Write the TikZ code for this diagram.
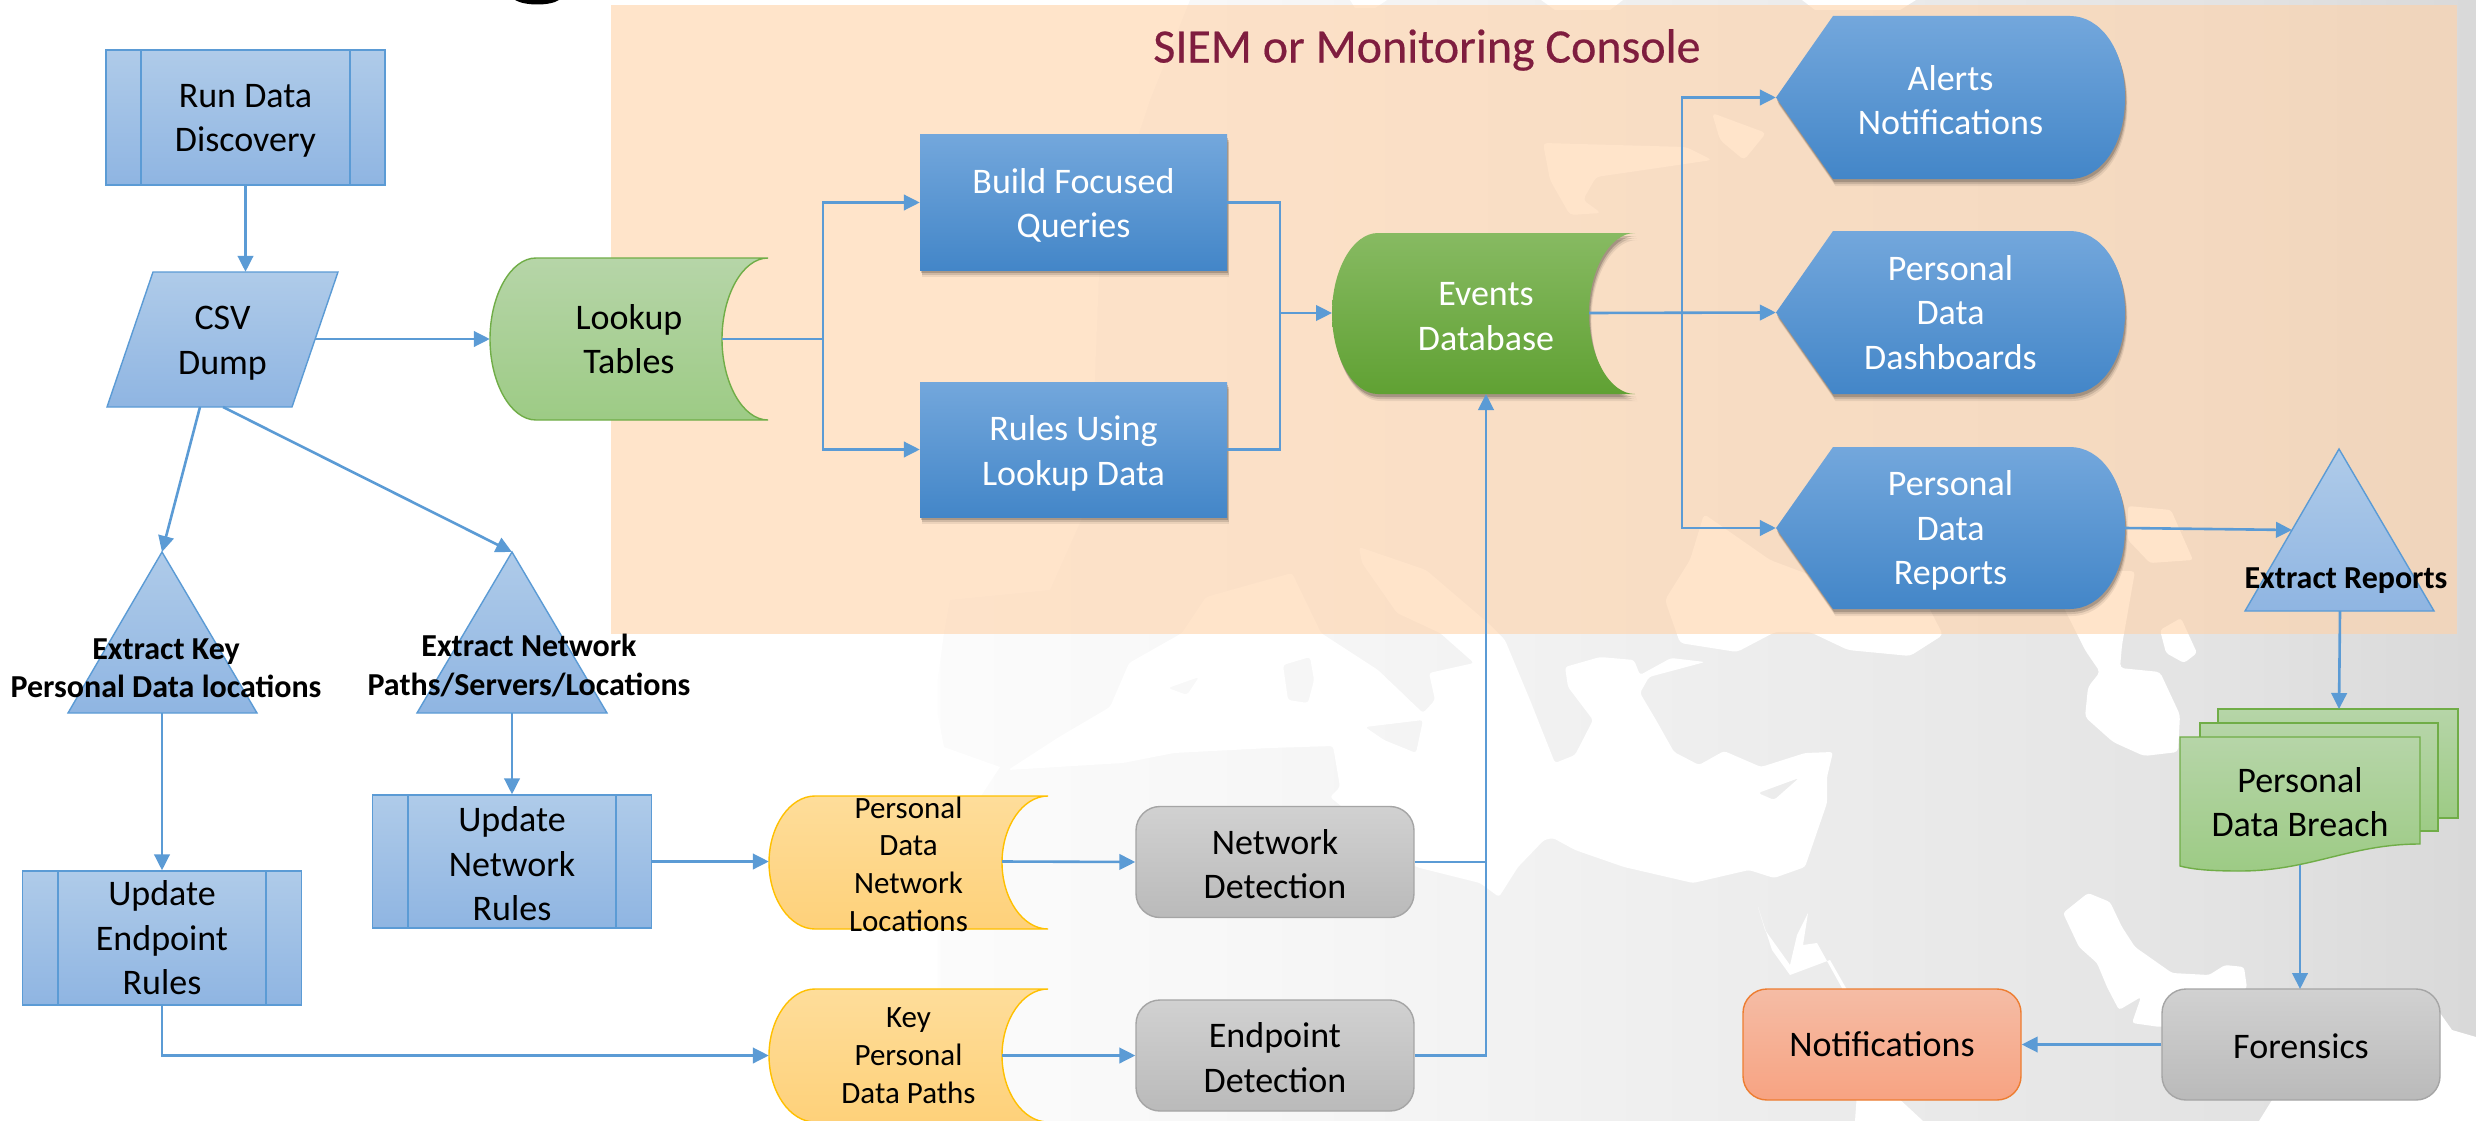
\documentclass[tikz,border=0pt]{standalone}
\usepackage{fontspec}
\setmainfont{Carlito}
\newfontfamily\titlefont[FakeBold=0.4]{Carlito}
\usetikzlibrary{arrows.meta}
\pgfdeclarehorizontalshading{mapgrad}{100bp}{color(0bp)=(white);color(43.9bp)=(white);color(44bp)=(white!98.5!black);color(50bp)=(white!97!black);color(55.3bp)=(white!95!black);color(60bp)=(white!93!black);color(65.4bp)=(white!91!black);color(70bp)=(white!89!black);color(75bp)=(white!85!black);color(100bp)=(white!85!black)}
\definecolor{lineblue}{HTML}{5B9BD5}
\definecolor{greenedge}{HTML}{70AD47}
\definecolor{amberedge}{HTML}{FFC000}
\definecolor{grayedge}{HTML}{A5A5A5}
\definecolor{orangeedge}{HTML}{ED7D31}
\definecolor{titlered}{HTML}{7F1D3F}
\newcommand\dn[1]{\rule{0pt}{#1pt}}
\tikzset{
  lightblue/.style={draw=lineblue,line width=1.4pt,shade,top color={rgb,255:red,175;green,203;blue,233},bottom color={rgb,255:red,143;green,181;blue,226}},
  darkblue/.style={shade,top color={rgb,255:red,115;green,167;blue,220},middle color={rgb,255:red,85;green,152;blue,218},bottom color={rgb,255:red,67;green,134;blue,200}},
  lightgreen/.style={draw=greenedge,line width=1.4pt,top color={rgb,255:red,182;green,213;blue,168},bottom color={rgb,255:red,157;green,203;blue,133}},
  darkgreen/.style={shade,top color={rgb,255:red,135;green,186;blue,98},middle color={rgb,255:red,112;green,177;blue,66},bottom color={rgb,255:red,96;green,161;blue,51}},
  amber/.style={draw=amberedge,line width=1.4pt,top color={rgb,255:red,254;green,221;blue,154},bottom color={rgb,255:red,254;green,209;blue,122}},
  grayround/.style={draw=grayedge,line width=1.4pt,rounded corners=24pt,top color={rgb,255:red,209;green,209;blue,209},bottom color={rgb,255:red,186;green,186;blue,186},minimum width=278pt,minimum height=111pt,inner sep=0pt},
  orangeround/.style={draw=orangeedge,line width=1.4pt,rounded corners=24pt,top color={rgb,255:red,245;green,188;blue,165},bottom color={rgb,255:red,247;green,163;blue,130},minimum width=278pt,minimum height=111pt,inner sep=0pt},
  txt/.style={align=center,inner sep=0pt,font=\fontsize{36}{44.4}\selectfont},
  txtw/.style={txt,text=white},
  txts/.style={align=center,inner sep=0pt,font=\fontsize{31}{37.8}\selectfont},
  lbl/.style={align=center,inner sep=0pt,font=\bfseries\fontsize{32}{38.5}\selectfont},
  conn/.style={draw=lineblue,line width=2.6pt,-{Triangle[length=16pt,width=15.5pt]}},
  plain/.style={draw=lineblue,line width=2.6pt},
  inner/.style={draw=lineblue,line width=1.4pt},
  sea/.style={fill=white,even odd rule}
}
\newcommand\tapeshape[6]{% style, x1,y1,x2,y2,d
  \path[#1] ({#2+#6},#3) .. controls ({#2+.45*#6},#3) and (#2,{(#3+#5)/2-.27*(#5-#3)}) .. (#2,{(#3+#5)/2})
    .. controls (#2,{(#3+#5)/2+.27*(#5-#3)}) and ({#2+.45*#6},#5) .. ({#2+#6},#5)
    -- (#4,#5) .. controls ({#4-.55*#6},#5) and ({#4-#6},{(#3+#5)/2+.27*(#5-#3)}) .. ({#4-#6},{(#3+#5)/2})
    .. controls ({#4-#6},{(#3+#5)/2-.27*(#5-#3)}) and ({#4-.55*#6},#3) .. (#4,#3) -- cycle;}
\newcommand\displayshape[5]{% style, tip,y1,x2,y2
  \path[#1] (#2,{(#3+#5)/2}) -- ({#2+57},#3) -- ({#4-55},#3)
    .. controls ({#4-25},#3) and (#4,{(#3+#5)/2-.3*(#5-#3)}) .. (#4,{(#3+#5)/2})
    .. controls (#4,{(#3+#5)/2+.3*(#5-#3)}) and ({#4-25},#5) .. ({#4-55},#5)
    -- ({#2+57},#5) -- cycle;}
\newcommand\softdisplay[4]{\foreach \d/\o in {7/.07,5/.12,3/.18}{\displayshape{fill=black,opacity=\o,shift={(.35*\d,\d)}}{#1}{#2}{#3}{#4}}}
\newcommand\softrect[4]{\foreach \d/\o in {7/.07,5/.12,3/.18}{\path[fill=black,opacity=\o,shift={(.35*\d,\d)}] (#1,#2) rectangle (#3,#4);}}
\newcommand\softtape[5]{\foreach \d/\o in {7/.07,5/.12,3/.18}{\tapeshape{fill=black,opacity=\o,shift={(.35*\d,\d)}}{#1}{#2}{#3}{#4}{#5}}}
\begin{document}
\begin{tikzpicture}[x=1pt,y=-1pt]
\useasboundingbox (0,0) rectangle (2476,1121);
% map background
\path[shading=mapgrad] (0,0) rectangle (2476,1121);
\path[sea] (0,0) -- (1190,0) -- (1150,100) -- (1100,250) -- (1090,500) -- (1050,590) -- (950,600) -- (944,633) -- (935,700) -- (944,747) -- (1000,767) -- (983,793) -- (900,937) -- (855,960) -- (833,987) -- (772,1121) -- (0,1121) -- cycle;
\path[sea,rounded corners=3pt] (1008,770) -- (1123,763) -- (1174,753) -- (1270,748) -- (1333,746) -- (1340,787) -- (1330,797) -- (1416,867) -- (1480,883) -- (1499,897) -- (1518,867) -- (1544,840) -- (1553,838) -- (1575,850) -- (1624,867) -- (1693,883) -- (1749,870) -- (1774,878) -- (1805,867) -- (1827,803) -- (1827,777) -- (1833,752) -- (1805,753) -- (1761,767) -- (1724,751) -- (1699,765) -- (1674,752) -- (1656,720) -- (1640,693) -- (1649,677) -- (1705,662) -- (1671,658) -- (1640,675) -- (1634,660) -- (1600,657) -- (1565,667) -- (1568,687) -- (1593,720) -- (1575,755) -- (1555,763) -- (1530,700) -- (1505,640) -- (1488,623) -- (1426,570) -- (1359,547) -- (1362,563) -- (1397,613) -- (1440,633) -- (1474,663) -- (1429,673) -- (1435,700) -- (1423,713) -- (1378,670) -- (1321,633) -- (1292,573) -- (1206,597) -- (1182,633) -- (1129,663) -- (1110,707) -- (1059,737) -- cycle
  (1283,665) -- (1310,657) -- (1314,680) -- (1308,703) -- (1288,700) -- cycle
  (1365,727) -- (1423,720) -- (1416,753) -- (1384,740) -- cycle
  (1168,688) -- (1199,677) -- (1187,695) -- cycle
  (1758,793) -- (1799,778) -- (1774,800) -- cycle;
\path[sea,rounded corners=4pt] (1665,600) -- (1680,643) -- (1737,652) -- (1775,632) -- (1810,632) -- (1848,650) -- (1910,656) -- (1943,635) -- (1925,600) -- (1850,590) -- (1770,560) -- (1704,514) -- (1690,560) -- cycle;
\path[sea,rounded corners=4pt] (2060,600) -- (2070,571) -- (2135,571) -- (2122,645) -- (2120,668) -- (2160,672) -- (2180,715) -- (2178,752) -- (2144,756) -- (2113,742) -- (2085,717) -- (2088,687) -- (2100,672) -- (2085,650) -- cycle;
\path[sea,rounded corners=3pt] (2160,630) -- (2181,618) -- (2197,653) -- (2184,663) -- (2166,653) -- cycle;
\path[sea,rounded corners=3pt] (2128,506) -- (2171,510) -- (2193,560) -- (2150,563) -- (2128,540) -- cycle;
\path[sea] (1758,907) -- (1765,930) -- (1790,965) -- (1797,935) -- (1808,913) -- (1803,945) -- (1817,943) -- (1842,988) -- (1860,1050) -- (1855,1121) -- (1923,1121) -- (1895,1095) -- (1870,1030) -- (1830,960) -- (1790,975) -- (1772,950) -- cycle;
\path[sea,rounded corners=3pt] (2063,913) -- (2088,893) -- (2110,902) -- (2122,927) -- (2135,947) -- (2172,973) -- (2209,975) -- (2225,965) -- (2244,967) -- (2247,988) -- (2200,1020) -- (2160,1027) -- (2132,1023) -- (2141,997) -- (2119,1010) -- (2107,987) -- (2097,963) -- (2079,947) -- cycle;
\path[sea] (2476,1037) -- (2452,1030) -- (2440,1013) -- (2300,1000) -- (2272,1100) -- (2259,1121) -- (2476,1121) -- cycle;
\path[sea] (1350,0) -- (1387,0) -- (1375,8) -- (1355,8) -- cycle (1541,0) -- (1623,0) -- (1610,10) -- (1555,10) -- cycle (1802,0) -- (1916,0) -- (1900,10) -- (1815,10) -- cycle;
\path[sea,rounded corners=4pt] (1712,113) -- (1766,133) -- (1744,160) -- (1720,140) -- cycle;
\path[sea,rounded corners=4pt] (1543,143) -- (1686,147) -- (1712,160) -- (1596,177) -- (1583,200) -- (1601,213) -- (1570,215) -- (1550,180) -- cycle;
% fragment at the top edge
\path[fill=black] (515,0) .. controls (525,6) and (550,6) .. (559,0) -- cycle;
% console band
\path[fill={rgb,255:red,255;green,210;blue,168},fill opacity=.6] (611,5) rectangle (2457,634);
\node[font=\titlefont\fontsize{48}{56}\selectfont,text=titlered,inner sep=0pt] (title) at (1427,50) {SIEM or Monitoring Console};

% predefined process boxes
\node[lightblue,minimum width=279pt,minimum height=135pt,inner sep=0pt,txt] (run) at (245.5,117.5) {\dn{30}Run Data\\Discovery};
\draw[inner] (141,50) -- (141,185) (350,50) -- (350,185);
\node[lightblue,minimum width=279pt,minimum height=134pt,inner sep=0pt,txt] (upep) at (162,938) {Update\\Endpoint\\Rules};
\draw[inner] (58,871) -- (58,1005) (266,871) -- (266,1005);
\node[lightblue,minimum width=278.5pt,minimum height=133pt,inner sep=0pt,txt] (upnet) at (512,861.5) {\dn{30}Update\\Network\\Rules};
\draw[inner] (408,795) -- (408,928) (616,795) -- (616,928);

% parallelogram
\path[lightblue] (153,272) -- (338,272) -- (292,407) -- (107,407) -- cycle;
\node[txt,minimum width=231pt,minimum height=135pt] (csv) at (222.5,339.5) {\dn{31}CSV\\Dump};

% triangles
\path[lightblue] (162,552) -- (257,713) -- (68,713) -- cycle;
\path[lightblue] (512,552) -- (607,713) -- (417,713) -- cycle;
\path[lightblue] (2339,449) -- (2434,611) -- (2245,611) -- cycle;
\node[lbl] (exkey) at (166,668) {Extract Key\\Personal Data locations};
\node[lbl] (exnet) at (529,665.5) {Extract Network\\Paths/Servers/Locations};
\node[lbl] (exrep) at (2346,581) {Extract Reports};

% tapes
\tapeshape{lightgreen}{490}{258}{768}{420}{46}
\node[txt,minimum width=278pt,minimum height=162pt] (lookup) at (629,339) {Lookup\\Tables};
\tapeshape{amber}{769}{796}{1048}{929}{46}
\node[txts,minimum width=279pt,minimum height=133pt] (pdnl) at (908.5,861.5) {\dn{27}Personal\\Data\\Network\\Locations};
\tapeshape{amber}{769}{989}{1048}{1122}{46}
\node[txts,minimum width=279pt,minimum height=133pt] (kpdp) at (908.5,1055.5) {Key\\Personal\\Data Paths};
\softtape{1332}{233}{1635}{394}{46}
\tapeshape{darkgreen}{1332}{233}{1635}{394}{46}
\node[txtw] (events) at (1486,316.5) {Events\\Database};

% dark blue process
\softrect{920}{135}{1227}{270}
\softrect{920}{382}{1227}{517}
\node[darkblue,txtw,minimum width=307pt,minimum height=135pt] (build) at (1073.5,202.5) {\dn{31}Build Focused\\Queries};
\node[darkblue,txtw,minimum width=307pt,minimum height=135pt] (rules) at (1073.5,449.5) {\dn{33}Rules Using\\Lookup Data};

% display shapes
\softdisplay{1776}{16}{2125}{179}
\displayshape{darkblue}{1776}{16}{2125}{179}
\node[txtw,minimum width=349pt,minimum height=163pt] (alerts) at (1950.5,97.5) {\dn{30}Alerts\\Notifications};
\softdisplay{1776}{231}{2125}{394}
\displayshape{darkblue}{1776}{231}{2125}{394}
\node[txtw,minimum width=349pt,minimum height=163pt] (dash) at (1950.5,312.5) {Personal\\Data\\Dashboards};
\softdisplay{1776}{447}{2125}{609}
\displayshape{darkblue}{1776}{447}{2125}{609}
\node[txtw,minimum width=349pt,minimum height=162pt] (reports) at (1950.5,528) {\dn{30}Personal\\Data\\Reports};

% detection and outcome boxes
\node[grayround,txt] (netdet) at (1275,862) {\dn{29}Network\\Detection};
\node[grayround,txt] (epdet) at (1275,1055.5) {\dn{29}Endpoint\\Detection};
\node[grayround,txt] (forensics) at (2301,1044.5) {\dn{29}Forensics};
\node[orangeround,txt] (notif) at (1882,1044.5) {Notifications};

% multi-document
\path[lightgreen] (2218,709) rectangle (2458,818);
\path[lightgreen] (2200,723) rectangle (2438,831);
\path[lightgreen] (2180,737) -- (2420,737) -- (2420,844) .. controls (2350,844) and (2310,871) .. (2240,871) .. controls (2215,871) and (2195,870) .. (2180,866) -- cycle;
\node[txt] (breach) at (2300,802) {Personal\\Data Breach};

% connection points on the drawn outlines
\coordinate (csvr) at (315,339);
\coordinate (csvl) at (200,407);
\coordinate (csvm) at (223,407);
\coordinate (tkey) at (162,552);
\coordinate (tnet) at (512,552);
\coordinate (tkeyb) at (162,713);
\coordinate (tnetb) at (512,713);
\coordinate (lookout) at (722,339);
\coordinate (jlook) at (823,339);
\coordinate (jmerge) at (1280,313);
\coordinate (evin) at (1332,313);
\coordinate (evout) at (1589,313);
\coordinate (trunk) at (1682,313);
\coordinate (evbot) at (1486,394);
\coordinate (jdet) at (1486,862);
\coordinate (pdnlout) at (1002,861.5);
\coordinate (kpdpout) at (1002,1055.5);
\coordinate (trep) at (2292,530);
\coordinate (trepb) at (2340,611);
\coordinate (stacktop) at (2339,709);
\coordinate (breachout) at (2300,865);
\coordinate (forin) at (2300,989);

% connectors
\draw[conn] (run.south) -- (csv.north -| run.south);
\draw[conn] (csvr) -- (lookup.west);
\draw[conn] (csvl) -- (tkey);
\draw[conn] (csvm) -- (tnet);
\draw[conn] (tkeyb) -- (upep.north);
\draw[conn] (tnetb) -- (upnet.north);
\draw[conn] (upnet.east) -- (pdnl.west);
\draw[conn] (upep.south) |- (kpdp.west);
\draw[conn] (pdnlout) -- (netdet.west);
\draw[conn] (kpdpout) -- (epdet.west);
\draw[plain] (lookout) -- (jlook);
\draw[conn] (jlook) |- (build.west);
\draw[conn] (jlook) |- (rules.west);
\draw[plain] (build.east) -| (jmerge);
\draw[plain] (rules.east) -| (jmerge);
\draw[conn] (jmerge) -- (evin);
\draw[conn] (evout) -- (dash.west);
\draw[conn] (trunk) |- (alerts.west);
\draw[conn] (trunk) |- (reports.west);
\draw[plain] (netdet.east) -- (jdet);
\draw[conn] (epdet.east) -| (evbot);
\draw[conn] (reports.east) -- (trep);
\draw[conn] (trepb) -- (stacktop);
\draw[conn] (breachout) -- (forin);
\draw[conn] (forensics.west) -- (notif.east);
\end{tikzpicture}
\end{document}
